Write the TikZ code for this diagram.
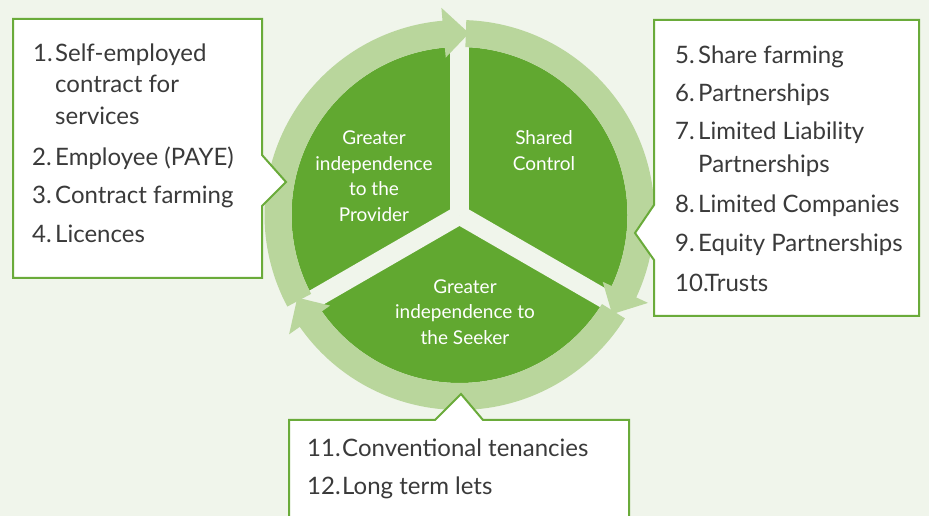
\documentclass[tikz,border=0pt]{standalone}
\usepackage{fontspec}
\setmainfont{Lato}
\definecolor{bgc}{HTML}{F0F5EB}
\definecolor{darkg}{HTML}{61A830}
\definecolor{ringc}{HTML}{B9D69C}
\definecolor{bord}{HTML}{6AAB3A}
\definecolor{txt}{HTML}{3A3A3A}
\begin{document}
\begin{tikzpicture}[x=1pt,y=1pt,
  item/.style={anchor=base west, inner sep=0pt, text=txt, font=\fontsize{24}{28}\selectfont},
  inlab/.style={anchor=base, inner sep=0pt, text=white, font=\fontsize{19}{22}\selectfont},
  callout/.style={fill=white, draw=bord, line width=2pt, line join=miter}]
\fill[bgc] (0,0) rectangle (929,516);
\useasboundingbox (0,0) rectangle (929,516);
\begin{scope}[shift={(459.5,301)}]
  \fill[darkg] (0,0) circle[radius=168pt];
  \foreach \a in {90,210,330} \draw[bgc, line width=19pt] (0,0) -- (\a:172pt);
  \foreach \t in {208,88,-32}{
    \fill[ringc] (\t:168pt) arc[start angle=\t, end angle=\t-113, radius=168pt]
      -- ({\t-113}:158pt) -- ({\t-121}:182pt) -- ({\t-113}:208pt) -- ({\t-113}:195pt)
      arc[start angle=\t-113, end angle=\t, radius=195pt] -- cycle;
  }
\end{scope}
% circle labels
\node[inlab] (p1) at (374,371) {Greater};
\node[inlab] (p2) at (374,345.3) {independence};
\node[inlab] (p3) at (374,320) {to the};
\node[inlab] (p4) at (374,294.3) {Provider};
\node[inlab] (s1) at (544,371) {Shared};
\node[inlab] (s2) at (544,345.3) {Control};
\node[inlab] (k1) at (465,222.7) {Greater};
\node[inlab] (k2) at (465,197) {independence to};
\node[inlab] (k3) at (465,171) {the Seeker};
% callout boxes
\draw[callout] (13,497) -- (262,497) -- (262,361) -- (286,334) -- (262,310) -- (262,238) -- (13,238) -- cycle;
\draw[callout] (654,496) -- (919,496) -- (919,200) -- (654,200) -- (654,256) -- (635,283) -- (654,311) -- cycle;
\draw[callout] (289,96) -- (435,96) -- (461,122) -- (483,96) -- (629,96) -- (629,-5) -- (289,-5) -- cycle;
% left box
\node[item] (n1) at (33,454.3) {1.};
\node[item] (t1) at (55,454.3) {Self-employed};
\node[item] (t1b) at (55,423.3) {contract for};
\node[item] (t1c) at (55,391) {services};
\node[item] (n2) at (32,350.3) {2.};
\node[item] (t2) at (55,350.3) {Employee (PAYE)};
\node[item] (n3) at (32,312) {3.};
\node[item] (t3) at (55,312) {Contract farming};
\node[item] (n4) at (32,273) {4.};
\node[item] (t4) at (55,273) {Licences};
% right box
\node[item] (n5) at (675,452.7) {5.};
\node[item] (t5) at (698,452.7) {Share farming};
\node[item] (n6) at (675,414.3) {6.};
\node[item] (t6) at (698,414.3) {Partnerships};
\node[item] (n7) at (675,376) {7.};
\node[item] (t7) at (698,376) {Limited Liability};
\node[item] (t7b) at (698,343) {Partnerships};
\node[item] (n8) at (675,303) {8.};
\node[item] (t8) at (698,303) {Limited Companies};
\node[item] (n9) at (675,264.3) {9.};
\node[item] (t9) at (698,264.3) {Equity Partnerships};
\node[item] (n10) at (675,224.3) {10.};
\node[item] (t10) at (705,224.3) {Trusts};
% bottom box
\node[item] (n11) at (307,59.3) {11.};
\node[item] (t11) at (342,59.3) {Conventional tenancies};
\node[item] (n12) at (307,21) {12.};
\node[item] (t12) at (342,21) {Long term lets};
\end{tikzpicture}
\end{document}
